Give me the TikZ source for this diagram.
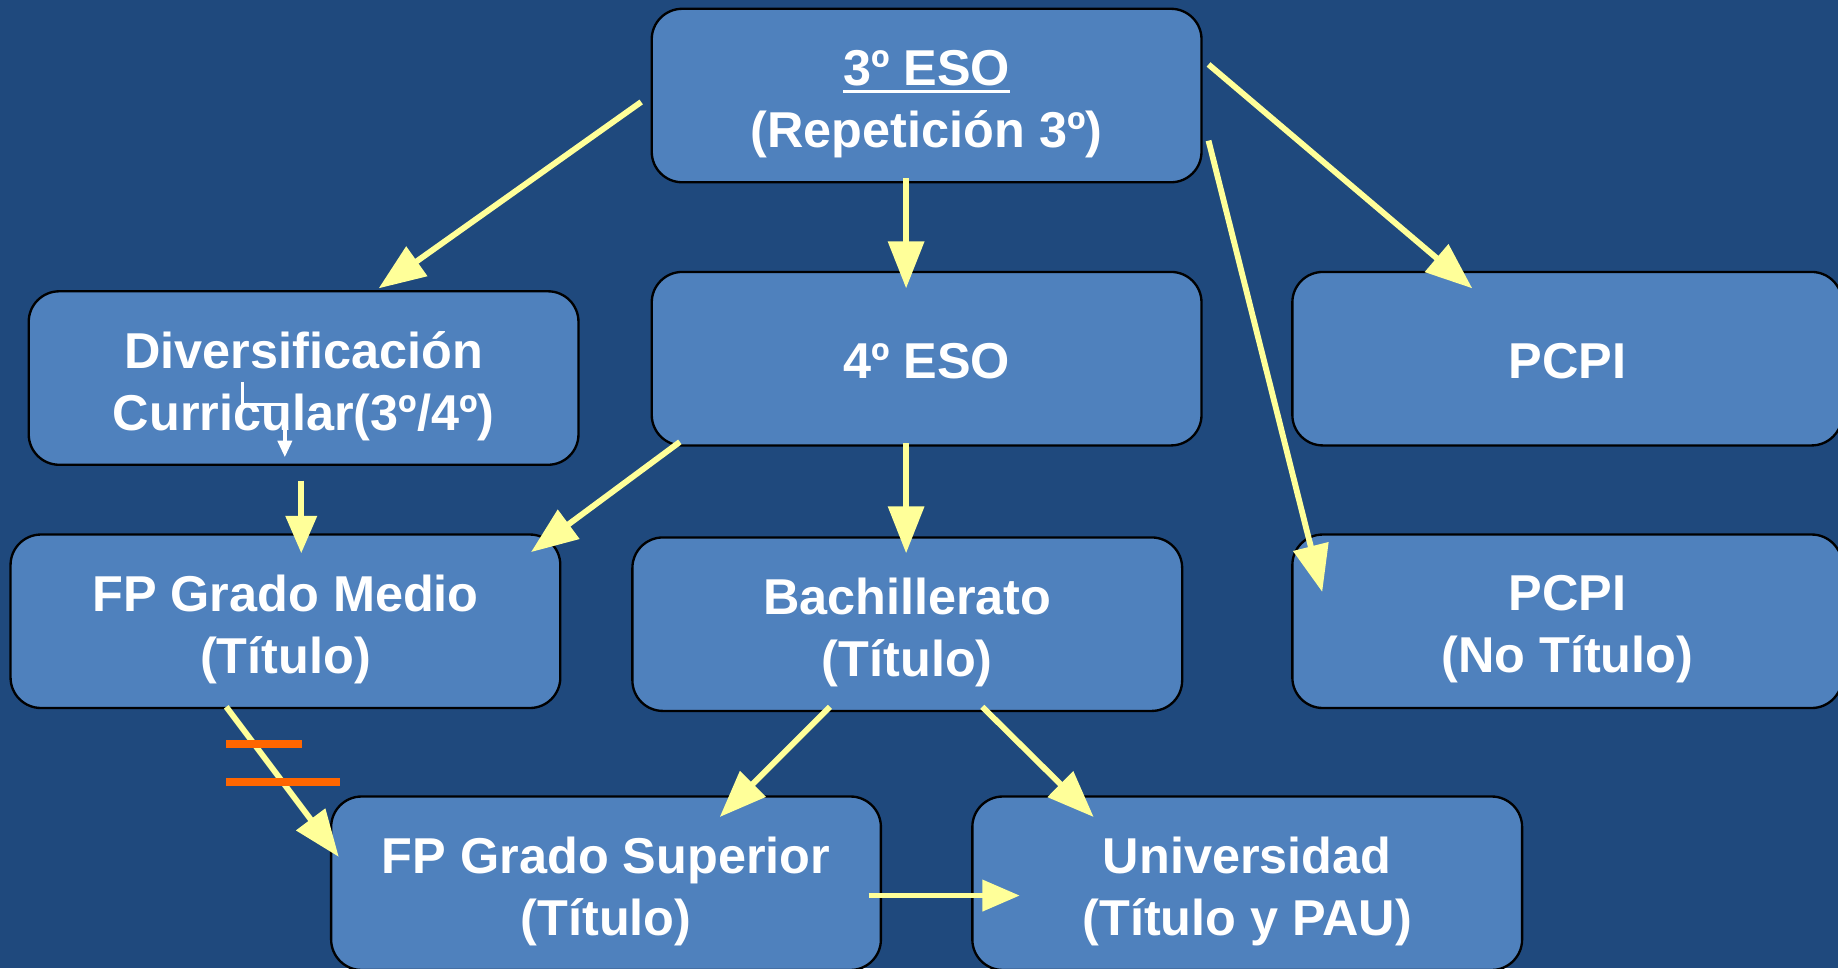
\documentclass[tikz,border=0pt]{standalone}
\usepackage{fontspec}
\setmainfont{Liberation Sans}
\usetikzlibrary{arrows.meta,calc}
\definecolor{bg}{RGB}{31,73,125}
\definecolor{boxfill}{RGB}{79,129,189}
\definecolor{arrowyel}{RGB}{255,255,153}
\definecolor{barorange}{RGB}{255,102,0}
\newcommand\myul[1]{\setbox0\hbox{#1}\rlap{\rule[-7pt]{\wd0}{3pt}}\box0}
\begin{document}
\begin{tikzpicture}[x=1pt,y=-1pt,
  box/.style={draw=black,line width=2pt,fill=boxfill,rounded corners=26pt,
    minimum width=469pt,minimum height=148pt,inner sep=0pt},
  txt/.style={align=center,text=white,
    font=\fontsize{43}{53}\selectfont\bfseries,inner sep=0pt},
  yarrow/.style={draw=arrowyel,line width=5pt,-{Triangle[length=40pt,width=30pt]}},
  ysmall/.style={draw=arrowyel,line width=5pt,-{Triangle[length=32pt,width=26pt]}},
  warrow/.style={draw=white,line width=3pt,-{Triangle[length=14pt,width=12pt]}},
  obar/.style={draw=barorange,line width=7pt}]
\fill[bg] (0,0) rectangle (1568,826);
\useasboundingbox (0,0) rectangle (1568,826);

\node[box] (eso3) at (790.5,81.5) {};
\node[box] (div) at (259,322.5) {};
\node[box] (eso4) at (790.5,306) {};
\node[box] (pcpi1) at (1337,306) {};
\node[box] (fpm) at (243.5,530) {};
\node[box] (bach) at (774,532.5) {};
\node[box] (pcpi2) at (1337,530) {};
\node[box] (fps) at (517,753.5) {};
\node[box] (univ) at (1064,753.5) {};

\node[txt] (eso3t) at ($(eso3)+(0,7)$) {\myul{3º ESO}\\(Repetición 3º)};
\node[txt] (divt) at ($(div)+(0,7)$) {Diversificación\\Curricular(3º/4º)};
\node[txt] (eso4t) at ($(eso4)+(0,2)$) {4º ESO};
\node[txt] (pcpi1t) at ($(pcpi1)+(0,2)$) {PCPI};
\node[txt] (fpmt) at ($(fpm)+(0,7)$) {FP Grado Medio\\(Título)};
\node[txt] (bacht) at ($(bach)+(0,7)$) {Bachillerato\\(Título)};
\node[txt] (pcpi2t) at ($(pcpi2)+(0,7)$) {PCPI\\(No Título)};
\node[txt] (fpst) at ($(fps)+(0,7)$) {FP Grado Superior\\(Título)};
\node[txt] (univt) at ($(univ)+(0,7)$) {Universidad\\(Título y PAU)};

% connector end points
\coordinate (a1s) at (547,87);   \coordinate (a1e) at (323,246);
\coordinate (a2s) at (773,152);  \coordinate (a2e) at (773,246);
\coordinate (a3s) at (1031,55);  \coordinate (a3e) at (1256,246);
\coordinate (a4s) at (1031,120); \coordinate (a4e) at (1128,505);
\coordinate (a5s) at (580,377);  \coordinate (a5e) at (453,471);
\coordinate (a6s) at (773,378);  \coordinate (a6e) at (773,472);
\coordinate (a7s) at (257,410);  \coordinate (a7e) at (257,472);
\coordinate (a9s) at (708,603);  \coordinate (a9e) at (614,697);
\coordinate (a10s) at (838,603); \coordinate (a10e) at (933,697);
\coordinate (a11s) at (193,603); \coordinate (a11e) at (289,731);
\coordinate (a12s) at (741,764); \coordinate (a12e) at (870,764);
\coordinate (ws) at (207,326); \coordinate (we) at (243,390);

\draw[yarrow] (a1s) -- (a1e);
\draw[yarrow] (a2s) -- (a2e);
\draw[yarrow] (a3s) -- (a3e);
\draw[yarrow] (a4s) -- (a4e);
\draw[yarrow] (a5s) -- (a5e);
\draw[yarrow] (a6s) -- (a6e);
\draw[ysmall] (a7s) -- (a7e);
\draw[yarrow] (a9s) -- (a9e);
\draw[yarrow] (a10s) -- (a10e);
\draw[yarrow] (a11s) -- (a11e);
\draw[ysmall] (a12s) -- (a12e);
\draw[warrow] (ws) |- (225,345) -| (we);

\coordinate (b1s) at (193,635); \coordinate (b1e) at (258,635);
\coordinate (b2s) at (193,667); \coordinate (b2e) at (290,667);
\draw[obar] (b1s) -- (b1e);
\draw[obar] (b2s) -- (b2e);
\end{tikzpicture}
\end{document}
